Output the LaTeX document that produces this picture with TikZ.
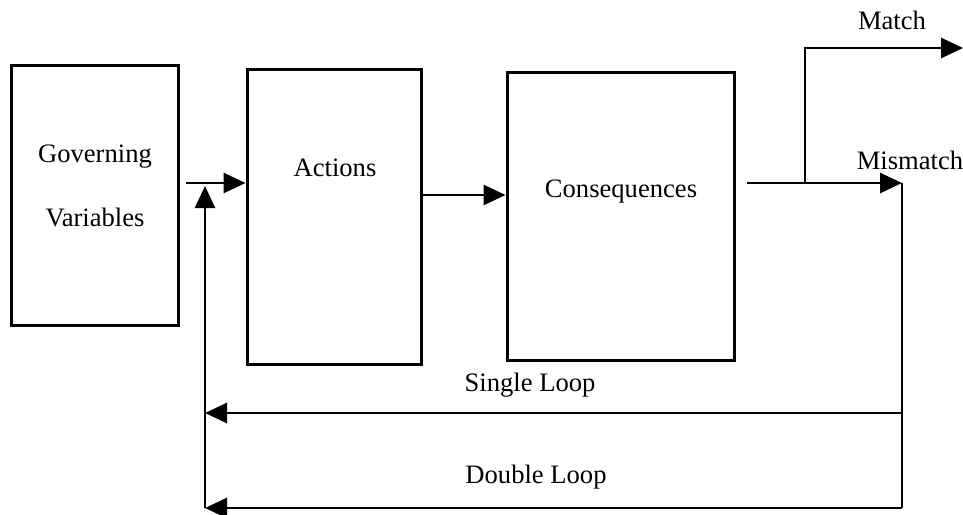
\documentclass[tikz,border=0pt]{standalone}
\usepackage{fontspec}
\setmainfont{Liberation Serif}
\usetikzlibrary{arrows.meta}

\tikzset{
  box/.style={draw, line width=1.5pt, inner sep=0pt},
  flow/.style={line width=1.4pt},
  tip/.style={-{Triangle[length=11pt,width=10pt]}},
  lbl/.style={font=\fontsize{13.3}{16}\selectfont, inner sep=0pt}
}

\begin{document}
\begin{tikzpicture}[x=0.5pt,y=-0.5pt]
  \useasboundingbox (0,0) rectangle (963,514);

      % the three blocks
      \node[box, minimum width=83.5pt, minimum height=130pt] (gov) at (94.5,195) {};
      \node[box, minimum width=87pt, minimum height=147.5pt] (act) at (334,216.5) {};
      \node[box, minimum width=113.5pt, minimum height=144pt] (cons) at (620.5,216) {};

      \node[lbl] (govtop) at (95,157) {Governing};
      \node[lbl] (govbot) at (95,217) {Variables};
      \node[lbl] (acttxt) at (335,168) {Actions};
      \node[lbl] (constxt) at (621,192) {Consequences};

      % loose ends and corners
      \coordinate (fbin) at (186,183);
      \coordinate (fbtip) at (205,186);
      \coordinate (fbfoot) at (205,508);
      \coordinate (out) at (747,183);
      \coordinate (fork) at (805,183);
      \coordinate (mis) at (902,183);
      \coordinate (matchend) at (963,48);
      \coordinate (slr) at (902,413);
      \coordinate (dlr) at (902,508);

      \draw[flow,tip] (fbin) -- (fbin -| act.west);
      \draw[flow,tip] (fbfoot) -- (fbtip);
      \draw[flow,tip] (act.east |- 0,195) -- (cons.west |- 0,195);
      \draw[flow,tip] (out) -- (mis);
      \draw[flow,tip] (fork) |- (matchend);
      \draw[flow] (mis) -- (dlr);
      \draw[flow,tip] (slr) -- (slr -| fbfoot);
      \draw[flow,tip] (dlr) -- (fbfoot);

      \node[lbl] (matchtxt) at (892,20) {Match};
      \node[lbl] (mistxt) at (910,160) {Mismatch};
      \node[lbl] (singletxt) at (530,385) {Single Loop};
      \node[lbl] (doubletxt) at (536,477) {Double Loop};

\end{tikzpicture}
\end{document}
